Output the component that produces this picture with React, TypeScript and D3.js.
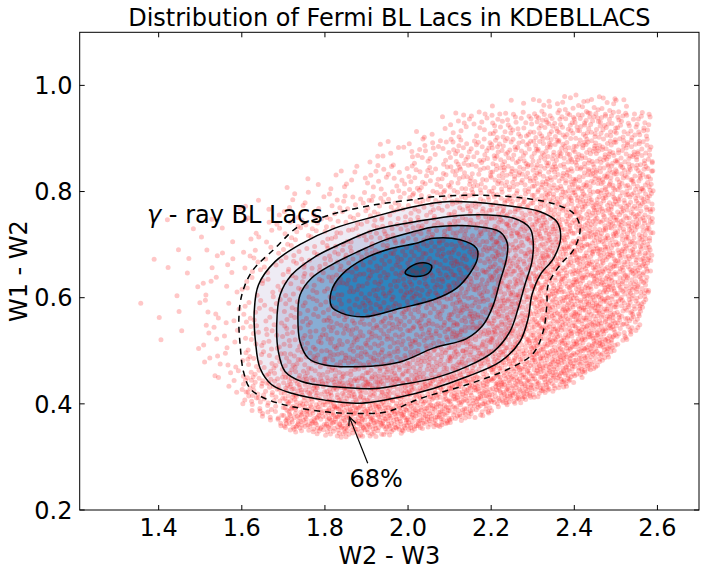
import * as d3 from 'd3';

const W = 705;
const H = 569;

// axis frame in pixels
const left = 79.7;
const right = 699;
const top = 32.3;
const bottom = 510;

const xDomain = [1.21, 2.7];
const yDomain = [0.2, 1.1];
const xTicks = [1.4, 1.6, 1.8, 2.0, 2.2, 2.4, 2.6];
const yTicks = [0.2, 0.4, 0.6, 0.8, 1.0];

// scatter density: counts per 0.1 x 0.05 cell
const colLefts = [1.3, 1.4, 1.5, 1.6, 1.7, 1.8, 1.9, 2.0, 2.1, 2.2, 2.3, 2.4, 2.5];
const rowBottoms = [0.95, 0.9, 0.85, 0.8, 0.75, 0.7, 0.65, 0.6, 0.55, 0.5, 0.45, 0.4, 0.35, 0.3];
const densityRows = [
  [0, 0, 0, 0, 0, 0, 0, 0, 3, 8, 20, 24, 16],
  [0, 0, 0, 0, 0, 0, 3, 8, 20, 34, 44, 50, 40],
  [0, 0, 0, 0, 0, 3, 10, 22, 34, 44, 55, 58, 52],
  [0, 0, 0, 1, 4, 10, 18, 28, 38, 50, 60, 65, 60],
  [0, 1, 2, 5, 12, 18, 24, 30, 40, 50, 65, 70, 65],
  [1, 2, 4, 9, 17, 23, 28, 34, 42, 54, 70, 76, 70],
  [1, 3, 6, 13, 20, 27, 32, 36, 44, 54, 75, 80, 75],
  [1, 3, 7, 15, 22, 29, 34, 38, 46, 60, 80, 86, 75],
  [1, 3, 8, 17, 24, 31, 36, 40, 50, 65, 86, 90, 70],
  [1, 3, 9, 21, 28, 35, 38, 44, 56, 75, 90, 95, 56],
  [0, 2, 10, 28, 38, 44, 50, 56, 66, 86, 100, 86, 24],
  [0, 0, 10, 46, 70, 76, 80, 86, 95, 100, 90, 34, 0],
  [0, 0, 4, 36, 86, 104, 104, 98, 78, 34, 5, 0, 0],
  [0, 0, 0, 12, 38, 65, 65, 40, 10, 0, 0, 0, 0],
];

// outline of the KDEBLLACS cloud
const cloudOutline: [number, number][] = [
  [1.33, 0.56], [1.35, 0.66], [1.4, 0.74], [1.5, 0.78], [1.6, 0.79], [1.7, 0.81],
  [1.8, 0.84], [1.9, 0.88], [2.0, 0.91], [2.1, 0.95], [2.2, 0.97], [2.3, 0.98],
  [2.4, 0.985], [2.5, 0.98], [2.55, 0.97], [2.585, 0.95], [2.59, 0.85], [2.59, 0.7],
  [2.578, 0.6], [2.555, 0.54], [2.5, 0.5], [2.45, 0.465], [2.4, 0.437], [2.3, 0.41],
  [2.2, 0.382], [2.1, 0.36], [2.0, 0.345], [1.9, 0.335], [1.8, 0.337], [1.7, 0.35],
  [1.65, 0.37], [1.6, 0.4], [1.55, 0.435], [1.5, 0.47], [1.45, 0.5], [1.4, 0.52], [1.35, 0.54],
];

// KDE contours of the Fermi BL Lacs (outer dashed one = 68%)
const dashedLevel: [number, number][] = [
  [1.8, 0.753], [1.84, 0.762], [1.92, 0.775], [2.005, 0.784], [2.061, 0.79], [2.181, 0.793],
  [2.285, 0.787], [2.358, 0.775], [2.398, 0.759], [2.414, 0.731], [2.398, 0.69], [2.366, 0.662],
  [2.337, 0.624], [2.334, 0.586], [2.325, 0.536], [2.301, 0.495], [2.245, 0.467], [2.141, 0.436],
  [2.029, 0.41], [1.949, 0.385], [1.868, 0.382], [1.8, 0.385], [1.72, 0.395], [1.656, 0.41],
  [1.62, 0.429], [1.604, 0.461], [1.596, 0.511], [1.593, 0.561], [1.6, 0.605], [1.624, 0.649],
  [1.68, 0.693], [1.736, 0.734],
];
const level1: [number, number][] = [
  [1.824, 0.731], [1.92, 0.753], [2.01, 0.771], [2.101, 0.781], [2.221, 0.775], [2.318, 0.762],
  [2.358, 0.743], [2.367, 0.712], [2.35, 0.674], [2.318, 0.643], [2.298, 0.605], [2.289, 0.561],
  [2.269, 0.517], [2.221, 0.479], [2.141, 0.451], [2.061, 0.429], [1.981, 0.413], [1.88, 0.401],
  [1.8, 0.407], [1.72, 0.42], [1.672, 0.436], [1.644, 0.467], [1.633, 0.517], [1.63, 0.574],
  [1.64, 0.624], [1.68, 0.668], [1.744, 0.702],
];
const level2: [number, number][] = [
  [1.84, 0.702], [1.92, 0.728], [2.017, 0.743], [2.141, 0.756], [2.253, 0.75], [2.293, 0.731],
  [2.301, 0.706], [2.298, 0.668], [2.281, 0.624], [2.265, 0.58], [2.245, 0.536], [2.205, 0.498],
  [2.141, 0.47], [2.061, 0.448], [1.981, 0.436], [1.92, 0.429], [1.824, 0.432], [1.744, 0.442],
  [1.704, 0.461], [1.688, 0.498], [1.684, 0.549], [1.692, 0.605], [1.72, 0.643], [1.776, 0.677],
];
const level3: [number, number][] = [
  [1.88, 0.687], [1.945, 0.709], [2.017, 0.725], [2.061, 0.733], [2.165, 0.734], [2.221, 0.724],
  [2.239, 0.702], [2.237, 0.674], [2.221, 0.63], [2.205, 0.586], [2.181, 0.549], [2.141, 0.523],
  [2.061, 0.505], [1.981, 0.479], [1.88, 0.47], [1.8, 0.473], [1.76, 0.486], [1.74, 0.517],
  [1.735, 0.561], [1.74, 0.605], [1.768, 0.637], [1.816, 0.662],
];
const level4: [number, number][] = [
  [1.896, 0.674], [1.961, 0.693], [2.017, 0.702], [2.061, 0.712], [2.125, 0.709], [2.165, 0.693],
  [2.167, 0.674], [2.149, 0.646], [2.117, 0.618], [2.061, 0.596], [1.981, 0.58], [1.896, 0.564],
  [1.84, 0.571], [1.816, 0.583], [1.815, 0.611], [1.84, 0.643],
];
const level5: [number, number][] = [
  [1.993, 0.646], [2.005, 0.658], [2.037, 0.666], [2.057, 0.66], [2.049, 0.646], [2.017, 0.64],
];

const filledLevels = [level1, level2, level3, level4, level5];
const levelColors = ['#eeebf4', '#cfd1e6', '#88add4', '#2d85bf', '#14608f'];

const gammaLabelAt: [number, number] = [1.372, 0.741];
const pctLabelAt: [number, number] = [1.859, 0.243];
const arrowFrom: [number, number] = [1.903, 0.288];
const arrowTo: [number, number] = [1.859, 0.375];

const font = 'DejaVu Sans, sans-serif';

// radical inverse, used to spread a cell's count evenly inside it
function radical(i: number, base: number) {
  let f = 1;
  let r = 0;
  while (i > 0) {
    f /= base;
    r += f * (i % base);
    i = Math.floor(i / base);
  }
  return r;
}

export default function App() {
  const x = d3.scaleLinear().domain(xDomain).range([left, right]);
  const y = d3.scaleLinear().domain(yDomain).range([bottom, top]);

  const contourPath = d3
    .line<[number, number]>()
    .x((d) => x(d[0]))
    .y((d) => y(d[1]))
    .curve(d3.curveCatmullRomClosed.alpha(0.5));

  const pts: [number, number][] = [];
  densityRows.forEach((row, ri) => {
    row.forEach((n, ci) => {
      const start = 1 + (ri * 13 + ci) * 53;
      for (let k = 0; k < n; k++) {
        const u = radical(start + k, 2);
        const v = radical(start + k, 3);
        const p: [number, number] = [colLefts[ci] + u * 0.1, rowBottoms[ri] + v * 0.05];
        if (d3.polygonContains(cloudOutline, p)) pts.push(p);
      }
    });
  });

  // arrow head
  const tx = x(arrowTo[0]);
  const ty = y(arrowTo[1]);
  const fx = x(arrowFrom[0]);
  const fy = y(arrowFrom[1]);
  const ang = Math.atan2(fy - ty, fx - tx);
  const hl = 9;
  const hw = 0.45;
  const head = `M${tx + hl * Math.cos(ang - hw)},${ty + hl * Math.sin(ang - hw)}L${tx},${ty}L${
    tx + hl * Math.cos(ang + hw)
  },${ty + hl * Math.sin(ang + hw)}`;

  return (
    <svg
      width={W}
      height={H}
      style={{ position: 'absolute', left: 0, top: 0, background: '#fff' }}
      fontFamily={font}
    >
      <rect width={W} height={H} fill="#fff" />
      <defs>
        <clipPath id="plot">
          <rect x={left} y={top} width={right - left} height={bottom - top} />
        </clipPath>
      </defs>
      <g clipPath="url(#plot)">
        {filledLevels.map((lv, i) => (
          <path key={'f' + i} d={contourPath(lv) || ''} fill={levelColors[i]} stroke="none" />
        ))}
        <g fill="red" fillOpacity={0.22}>
          {pts.map((p, i) => (
            <circle key={i} cx={x(p[0])} cy={y(p[1])} r={2.5} />
          ))}
        </g>
        {filledLevels.map((lv, i) => (
          <path key={'l' + i} d={contourPath(lv) || ''} fill="none" stroke="#000" strokeWidth={1.5} />
        ))}
        <path
          d={contourPath(dashedLevel) || ''}
          fill="none"
          stroke="#000"
          strokeWidth={1.5}
          strokeDasharray="6,5"
        />
      </g>

      {/* annotations */}
      <text x={x(gammaLabelAt[0])} y={y(gammaLabelAt[1])} fontSize={24}>
        <tspan fontStyle="italic">γ</tspan> - ray BL Lacs
      </text>
      <line x1={fx} y1={fy} x2={tx} y2={ty} stroke="#000" strokeWidth={1.2} />
      <path d={head} fill="none" stroke="#000" strokeWidth={1.2} />
      <text x={x(pctLabelAt[0])} y={y(pctLabelAt[1])} fontSize={24}>
        68%
      </text>

      {/* frame and ticks */}
      <rect x={left} y={top} width={right - left} height={bottom - top} fill="none" stroke="#000" strokeWidth={1} />
      {xTicks.map((t) => (
        <g key={'x' + t}>
          <line x1={x(t)} x2={x(t)} y1={bottom} y2={bottom - 5} stroke="#000" />
          <line x1={x(t)} x2={x(t)} y1={top} y2={top + 5} stroke="#000" />
          <text x={x(t)} y={535.5} fontSize={24} textAnchor="middle">
            {t.toFixed(1)}
          </text>
        </g>
      ))}
      {yTicks.map((t) => (
        <g key={'y' + t}>
          <line x1={left} x2={left + 5} y1={y(t)} y2={y(t)} stroke="#000" />
          <line x1={right} x2={right - 5} y1={y(t)} y2={y(t)} stroke="#000" />
          <text x={72.5} y={y(t) + 8.7} fontSize={24} textAnchor="end">
            {t.toFixed(1)}
          </text>
        </g>
      ))}

      <text x={(left + right) / 2} y={26} fontSize={24} textAnchor="middle">
        Distribution of Fermi BL Lacs in KDEBLLACS
      </text>
      <text x={(left + right) / 2} y={563.5} fontSize={24} textAnchor="middle">
        W2 - W3
      </text>
      <text transform={`translate(26.5,${(top + bottom) / 2}) rotate(-90)`} fontSize={24} textAnchor="middle">
        W1 - W2
      </text>
    </svg>
  );
}
